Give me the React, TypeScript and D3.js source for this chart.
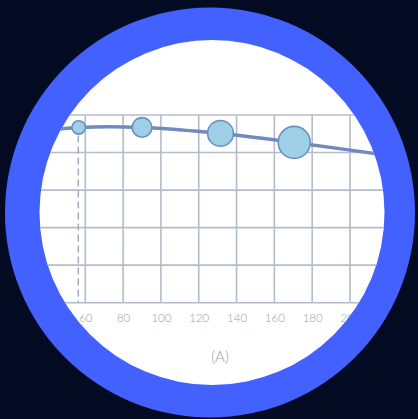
import React from "react";
import * as d3 from "d3";

const xTicks = [60, 80, 100, 120, 140, 160, 180, 200];
const yTicks = [0, 1, 2, 3, 4, 5];
const lineX = [30, 56.5, 90, 131.5, 170.5, 230];
const lineY = [4.55, 4.67, 4.67, 4.51, 4.27, 3.85];
const bubbleX = [56.5, 90, 131.5, 170.5];
const bubbleY = [4.67, 4.67, 4.51, 4.27];
const bubbleSize = [1, 2, 3, 4];
const markerX = 56.3;
const xLabels = ["60", "80", "100", "120", "140", "160", "180", "200"];
const caption = "(A)";

export default function App() {
  const W = 418, H = 419;
  const cx = 211, cy = 212.5, rOuter = 205, rInner = 172.5;
  const x = d3.scaleLinear().domain([60, 200]).range([84.3, 349]);
  const y = d3.scaleLinear().domain([0, 5]).range([302.7, 115]);
  const r = d3.scaleLinear().domain([1, 4]).range([6.7, 16]);
  const line = d3
    .line<number>()
    .x((_, i) => x(lineX[i]))
    .y((d) => y(d))
    .curve(d3.curveCatmullRom.alpha(0.5));
  const grid = "#b3bccb";
  return (
    <div style={{ position: "fixed", left: 0, top: 0, width: W, height: H, background: "#020b22" }}>
      <svg width={W} height={H} style={{ display: "block" }}>
        <defs>
          <clipPath id="inner">
            <circle cx={cx} cy={cy} r={rInner} />
          </clipPath>
        </defs>
        <rect width={W} height={H} fill="#020b22" />
        <circle cx={cx - 1} cy={cy} r={rOuter} fill="#4361fe" />
        <circle cx={cx + 1} cy={cy} r={rInner} fill="#ffffff" />
        <g clipPath="url(#inner)" transform="translate(1,0)">
          {yTicks.map((t) => (
            <line key={"h" + t} x1={0} x2={W} y1={y(t)} y2={y(t)} stroke={grid} strokeWidth={1.6} />
          ))}
          {xTicks.map((t) => (
            <line key={"v" + t} x1={x(t)} x2={x(t)} y1={y(5)} y2={y(0)} stroke={grid} strokeWidth={1.6} />
          ))}
          <line
            x1={x(markerX)}
            x2={x(markerX)}
            y1={y(bubbleY[0]) + 8}
            y2={y(0)}
            stroke="#a3acbf"
            strokeWidth={1.5}
            strokeDasharray="7 4"
          />
          <path d={line(lineY) || ""} fill="none" stroke="#7189be" strokeWidth={3.5} />
          {bubbleX.map((bx, i) => (
            <circle
              key={"b" + i}
              cx={x(bx)}
              cy={y(bubbleY[i])}
              r={r(bubbleSize[i])}
              fill="#9dd0e7"
              stroke="#6e8fc0"
              strokeWidth={1.6}
            />
          ))}
          {xLabels.map((l, i) => (
            <text
              key={"t" + l}
              x={x(xTicks[i]) + 0.5}
              y={322}
              textAnchor="middle"
              fontFamily="Lato, 'Open Sans', sans-serif"
              fontWeight={300}
              fontSize={11.5}
              fill="#9b9ea4"
            >
              {l}
            </text>
          ))}
          <text
            x={219}
            y={362}
            textAnchor="middle"
            fontFamily="Lato, 'Open Sans', sans-serif"
            fontWeight={300}
            fontSize={15}
            fill="#9b9ea4"
          >
            {caption}
          </text>
        </g>
      </svg>
    </div>
  );
}
